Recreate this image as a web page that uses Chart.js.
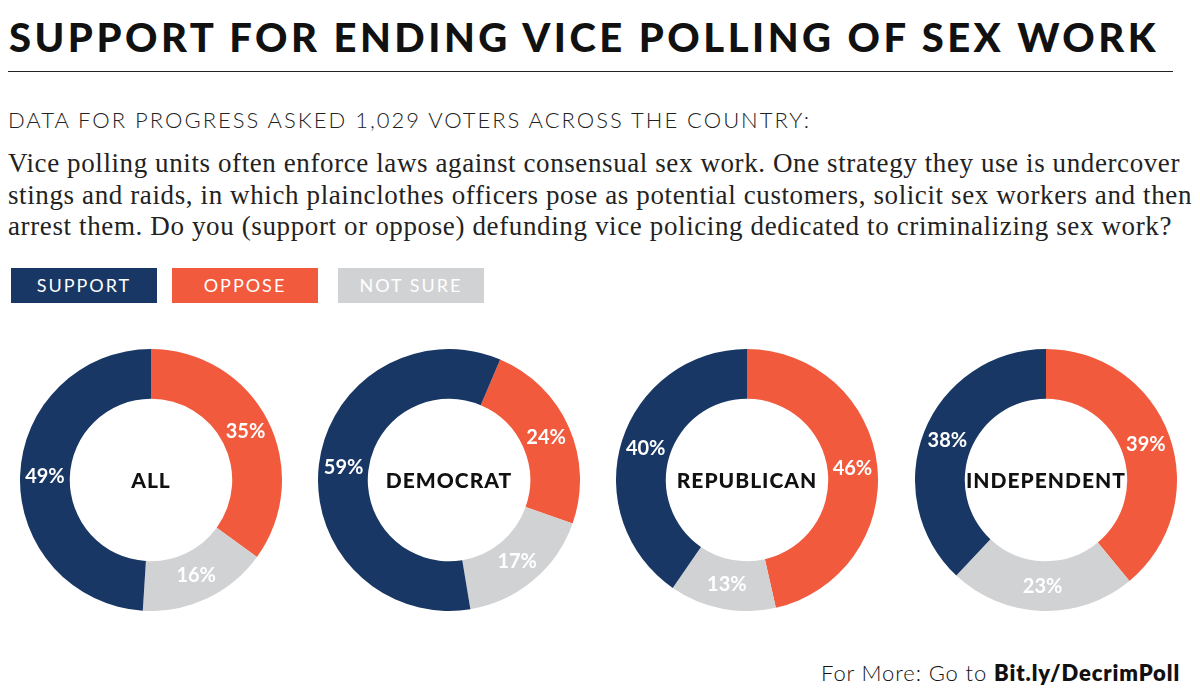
<!DOCTYPE html>
<html>
<head>
<meta charset="utf-8">
<script src="https://cdn.jsdelivr.net/npm/chart.js@4.4.0/dist/chart.umd.min.js"></script>
<style>
  html, body { margin:0; padding:0; background:#fff; }
  body { width:1200px; height:698px; position:relative; overflow:hidden; font-family: Lato, "Noto Sans", sans-serif; }
  .abs { position:absolute; white-space:nowrap; }
  #title { left:9px; top:14px; font-size:40px; line-height:46px; font-weight:900; color:#111; }
  #rule { left:8px; top:71px; width:1165px; height:0; border-top:1.5px solid #222; }
  #sub { left:8px; top:108px; font-size:22px; line-height:24px; font-weight:300; color:#222; }
  .body { left:8px; font-family:"Liberation Serif", "DejaVu Serif", serif; font-size:27px; line-height:30px; color:#222; }
  .leg { top:268px; height:35px; width:146px; color:#fff; font-size:18px; line-height:35px; text-align:center; letter-spacing:2px; font-weight:400; }
  .chartbox { position:absolute; top:349px; width:262px; height:262px; }
  #foot { left:821px; top:661px; font-size:22px; line-height:24px; font-weight:300; color:#111; }
  #foot b { font-weight:800; }
</style>
</head>
<body>
<div id="title" class="abs fit" data-w="1150">SUPPORT FOR ENDING VICE POLLING OF SEX WORK</div>
<div id="rule" class="abs"></div>
<div id="sub" class="abs fit" data-w="803">DATA FOR PROGRESS ASKED 1,029 VOTERS ACROSS THE COUNTRY:</div>
<div class="abs body fit" style="top:148px" data-w="1172">Vice polling units often enforce laws against consensual sex work. One strategy they use is undercover</div>
<div class="abs body fit" style="top:179.5px" data-w="1184">stings and raids, in which plainclothes officers pose as potential customers, solicit sex workers and then</div>
<div class="abs body fit" style="top:211px" data-w="1164">arrest them. Do you (support or oppose) defunding vice policing dedicated to criminalizing sex work?</div>
<div id="legend"></div>
<div id="charts"></div>
<div id="foot" class="abs fit" data-w="359">For More: Go to <b>Bit.ly/DecrimPoll</b></div>

<script>
// ---- data ----
const groups   = ['ALL', 'DEMOCRAT', 'REPUBLICAN', 'INDEPENDENT'];
const segments = ['OPPOSE', 'NOT SURE', 'SUPPORT'];      // ring order, clockwise from top
const support  = [49, 59, 40, 38];
const oppose   = [35, 24, 46, 39];
const notSure  = [16, 17, 13, 23];
const legendOrder = ['SUPPORT', 'OPPOSE', 'NOT SURE'];

// ---- styles ----
const colors = { 'SUPPORT':'#183764', 'OPPOSE':'#f15a3c', 'NOT SURE':'#d1d2d4' };
const legendLeft = [11, 172, 338];
const centersX = [151, 449, 747, 1046];

// legend
const legEl = document.getElementById('legend');
legendOrder.forEach((name, i) => {
  const d = document.createElement('div');
  d.className = 'abs leg';
  d.style.left = legendLeft[i] + 'px';
  d.style.background = colors[name];
  d.textContent = name;
  legEl.appendChild(d);
});

// fit text widths
function fitAll() {
  document.querySelectorAll('.fit').forEach(el => {
    el.style.letterSpacing = '0px';
    const w = el.getBoundingClientRect().width;
    const target = +el.dataset.w;
    const n = el.textContent.length;
    el.style.letterSpacing = ((target - w) / n) + 'px';
  });
}
fitAll();

const labelPlugin = {
  id: 'labels',
  afterDatasetsDraw(chart) {
    const ctx = chart.ctx;
    const meta = chart.getDatasetMeta(0);
    const ds = chart.data.datasets[0];
    ctx.save();
    ctx.fillStyle = '#fff';
    ctx.font = 'bold 20px Lato, sans-serif';
    ctx.textAlign = 'center';
    ctx.textBaseline = 'middle';
    meta.data.forEach((arc, i) => {
      const p = arc.getCenterPoint();
      ctx.fillText(ds.data[i] + '%', p.x, p.y);
    });
    const c = meta.data[0];
    ctx.fillStyle = '#111';
    ctx.font = '900 21px Lato, sans-serif';
    try { ctx.letterSpacing = '1px'; } catch(e) {}
    ctx.fillText(chart.options.plugins.centerText, c.x, c.y + 1);
    ctx.restore();
  }
};

const chartsEl = document.getElementById('charts');
groups.forEach((g, i) => {
  const box = document.createElement('div');
  box.className = 'chartbox';
  box.style.left = (centersX[i] - 131) + 'px';
  const cv = document.createElement('canvas');
  cv.width = 262; cv.height = 262;
  box.appendChild(cv);
  chartsEl.appendChild(box);
  new Chart(cv, {
    type: 'doughnut',
    data: {
      labels: segments,
      datasets: [{
        data: [oppose[i], notSure[i], support[i]],
        backgroundColor: segments.map(s => colors[s]),
        borderWidth: 0
      }]
    },
    options: {
      responsive: false,
      animation: false,
      cutout: '62%',
      rotation: g === 'DEMOCRAT' ? 23 : 0,
      layout: { padding: 0 },
      events: [],
      plugins: {
        legend: { display: false },
        tooltip: { enabled: false },
        centerText: g
      }
    },
    plugins: [labelPlugin]
  });
});
</script>
</body>
</html>
